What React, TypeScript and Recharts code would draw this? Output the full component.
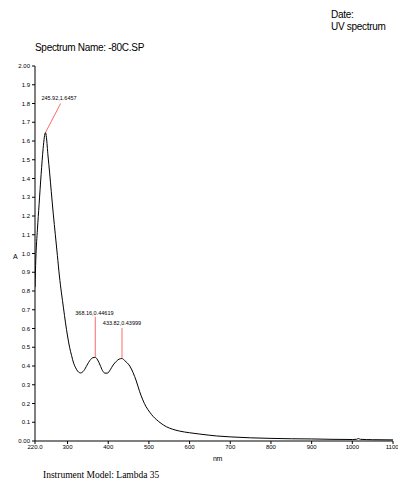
import React from "react";
import {
  Line,
  LineChart,
  ReferenceDot,
  ReferenceLine,
  XAxis,
  YAxis,
} from "recharts";

// wavelength (nm) and absorbance
const wavelengths = [
  220, 222, 226, 230, 235, 240, 243, 245.92, 248, 252, 256, 260, 265, 270, 275,
  280, 285, 290, 295, 300, 305, 310, 315, 320, 325, 332, 340, 348, 355, 362,
  368.16, 374, 380, 386, 392, 398, 405, 412, 420, 427, 433.82, 440, 446, 453,
  461, 469, 477, 485, 493, 502, 510, 518, 530, 543, 558, 575, 600, 625, 666,
  700, 750, 800, 850, 900, 950, 1000, 1010, 1015, 1020, 1050, 1100,
];
const absorbance = [
  0.82, 0.97, 1.13, 1.26, 1.42, 1.56, 1.62, 1.6457, 1.62, 1.52, 1.43, 1.33, 1.21,
  1.1, 0.99, 0.88, 0.79, 0.71, 0.63, 0.56, 0.5, 0.455, 0.415, 0.39, 0.372,
  0.363, 0.375, 0.405, 0.43, 0.444, 0.44619, 0.432, 0.405, 0.375, 0.362, 0.362,
  0.38, 0.405, 0.425, 0.437, 0.43999, 0.43, 0.418, 0.4, 0.365, 0.32, 0.265,
  0.219, 0.183, 0.154, 0.132, 0.115, 0.094, 0.076, 0.063, 0.053, 0.044, 0.037,
  0.027, 0.022, 0.017, 0.014, 0.012, 0.011, 0.009, 0.008, 0.009, 0.013, 0.009,
  0.007, 0.006,
];

const xTicks = [220, 300, 400, 500, 600, 700, 800, 900, 1000, 1100];
const yTicks = [
  0, 0.1, 0.2, 0.3, 0.4, 0.5, 0.6, 0.7, 0.8, 0.9, 1.0, 1.1, 1.2, 1.3, 1.4, 1.5,
  1.6, 1.7, 1.8, 1.9, 2.0,
];

// picked peaks
const peakNm = [245.92, 368.16, 433.82];
const peakA = [1.6457, 0.44619, 0.43999];
const peakLabels = ["245.92,1.6457", "368.16,0.44619", "433.82,0.43999"];
// where each peak's leader line ends / its label sits
const leaderEnd = [
  { nm: 283, a: 1.8, labelNm: 279, labelA: 1.83 },
  { nm: 368.16, a: 0.663, labelNm: 366, labelA: 0.685 },
  { nm: 433.82, a: 0.603, labelNm: 433.82, labelA: 0.628 },
];

const data = wavelengths.map((nm, i) => ({ nm, a: absorbance[i] }));

const narrow = "'Liberation Sans Narrow', 'Arial Narrow', 'Liberation Sans', Arial, sans-serif";
const tickStyle = { fontSize: 6, fill: "#000", fontFamily: narrow };

const fmtX = (v: number) => (v === 220 ? "220.0" : String(v));
const fmtY = (v: number) => (v === 0 || v === 2 ? v.toFixed(2) : v.toFixed(1));

const txt: React.CSSProperties = { position: "absolute", color: "#000", fontFamily: narrow, letterSpacing: -0.3 };

export default function App() {
  return (
    <div style={{ position: "absolute", left: 0, top: 0, width: 398, height: 481, background: "#fff" }}>
      <div style={{ ...txt, left: 331, top: 9, fontSize: 10, lineHeight: "12px" }}>
        Date:
        <br />
        UV spectrum
      </div>
      <div style={{ ...txt, left: 35, top: 42, fontSize: 10 }}>Spectrum Name: -80C.SP</div>
      <div style={{ ...txt, left: 13, top: 253, fontSize: 7 }}>A</div>
      <div style={{ ...txt, left: 213, top: 455, fontSize: 7 }}>nm</div>
      <div style={{ ...txt, left: 43, top: 470, fontSize: 9.5, letterSpacing: 0, fontFamily: "'Liberation Serif', serif" }}>
        Instrument Model: Lambda 35
      </div>
      <LineChart width={398} height={481} data={data} margin={{ top: 66, right: 5, left: 5, bottom: 20 }}>
        <XAxis
          type="number"
          dataKey="nm"
          domain={[220, 1100]}
          ticks={xTicks}
          tickFormatter={fmtX}
          tick={tickStyle}
          tickSize={3}
          tickMargin={1}
          height={20}
          stroke="#000"
          allowDataOverflow
        />
        <YAxis
          type="number"
          domain={[0, 2]}
          ticks={yTicks}
          tickFormatter={fmtY}
          tick={tickStyle}
          tickSize={3}
          tickMargin={2}
          width={30}
          stroke="#000"
          interval={0}
        />
        <Line
          type="monotone"
          dataKey="a"
          stroke="#000"
          strokeWidth={1}
          dot={false}
          isAnimationActive={false}
        />
        {peakNm.map((nm, i) => (
          <ReferenceLine
            key={"l" + i}
            segment={[
              { x: nm, y: peakA[i] },
              { x: leaderEnd[i].nm, y: leaderEnd[i].a },
            ]}
            stroke="#ff6b6b"
            strokeWidth={1}
            ifOverflow="visible"
          />
        ))}
        {peakNm.map((nm, i) => (
          <ReferenceDot
            key={"d" + i}
            x={leaderEnd[i].labelNm}
            y={leaderEnd[i].labelA}
            r={1}
            fill="none"
            stroke="none"
            ifOverflow="visible"
            label={{ value: peakLabels[i], position: "center", fontSize: 5.5, fill: "#000", fontFamily: narrow }}
          />
        ))}
      </LineChart>
    </div>
  );
}
